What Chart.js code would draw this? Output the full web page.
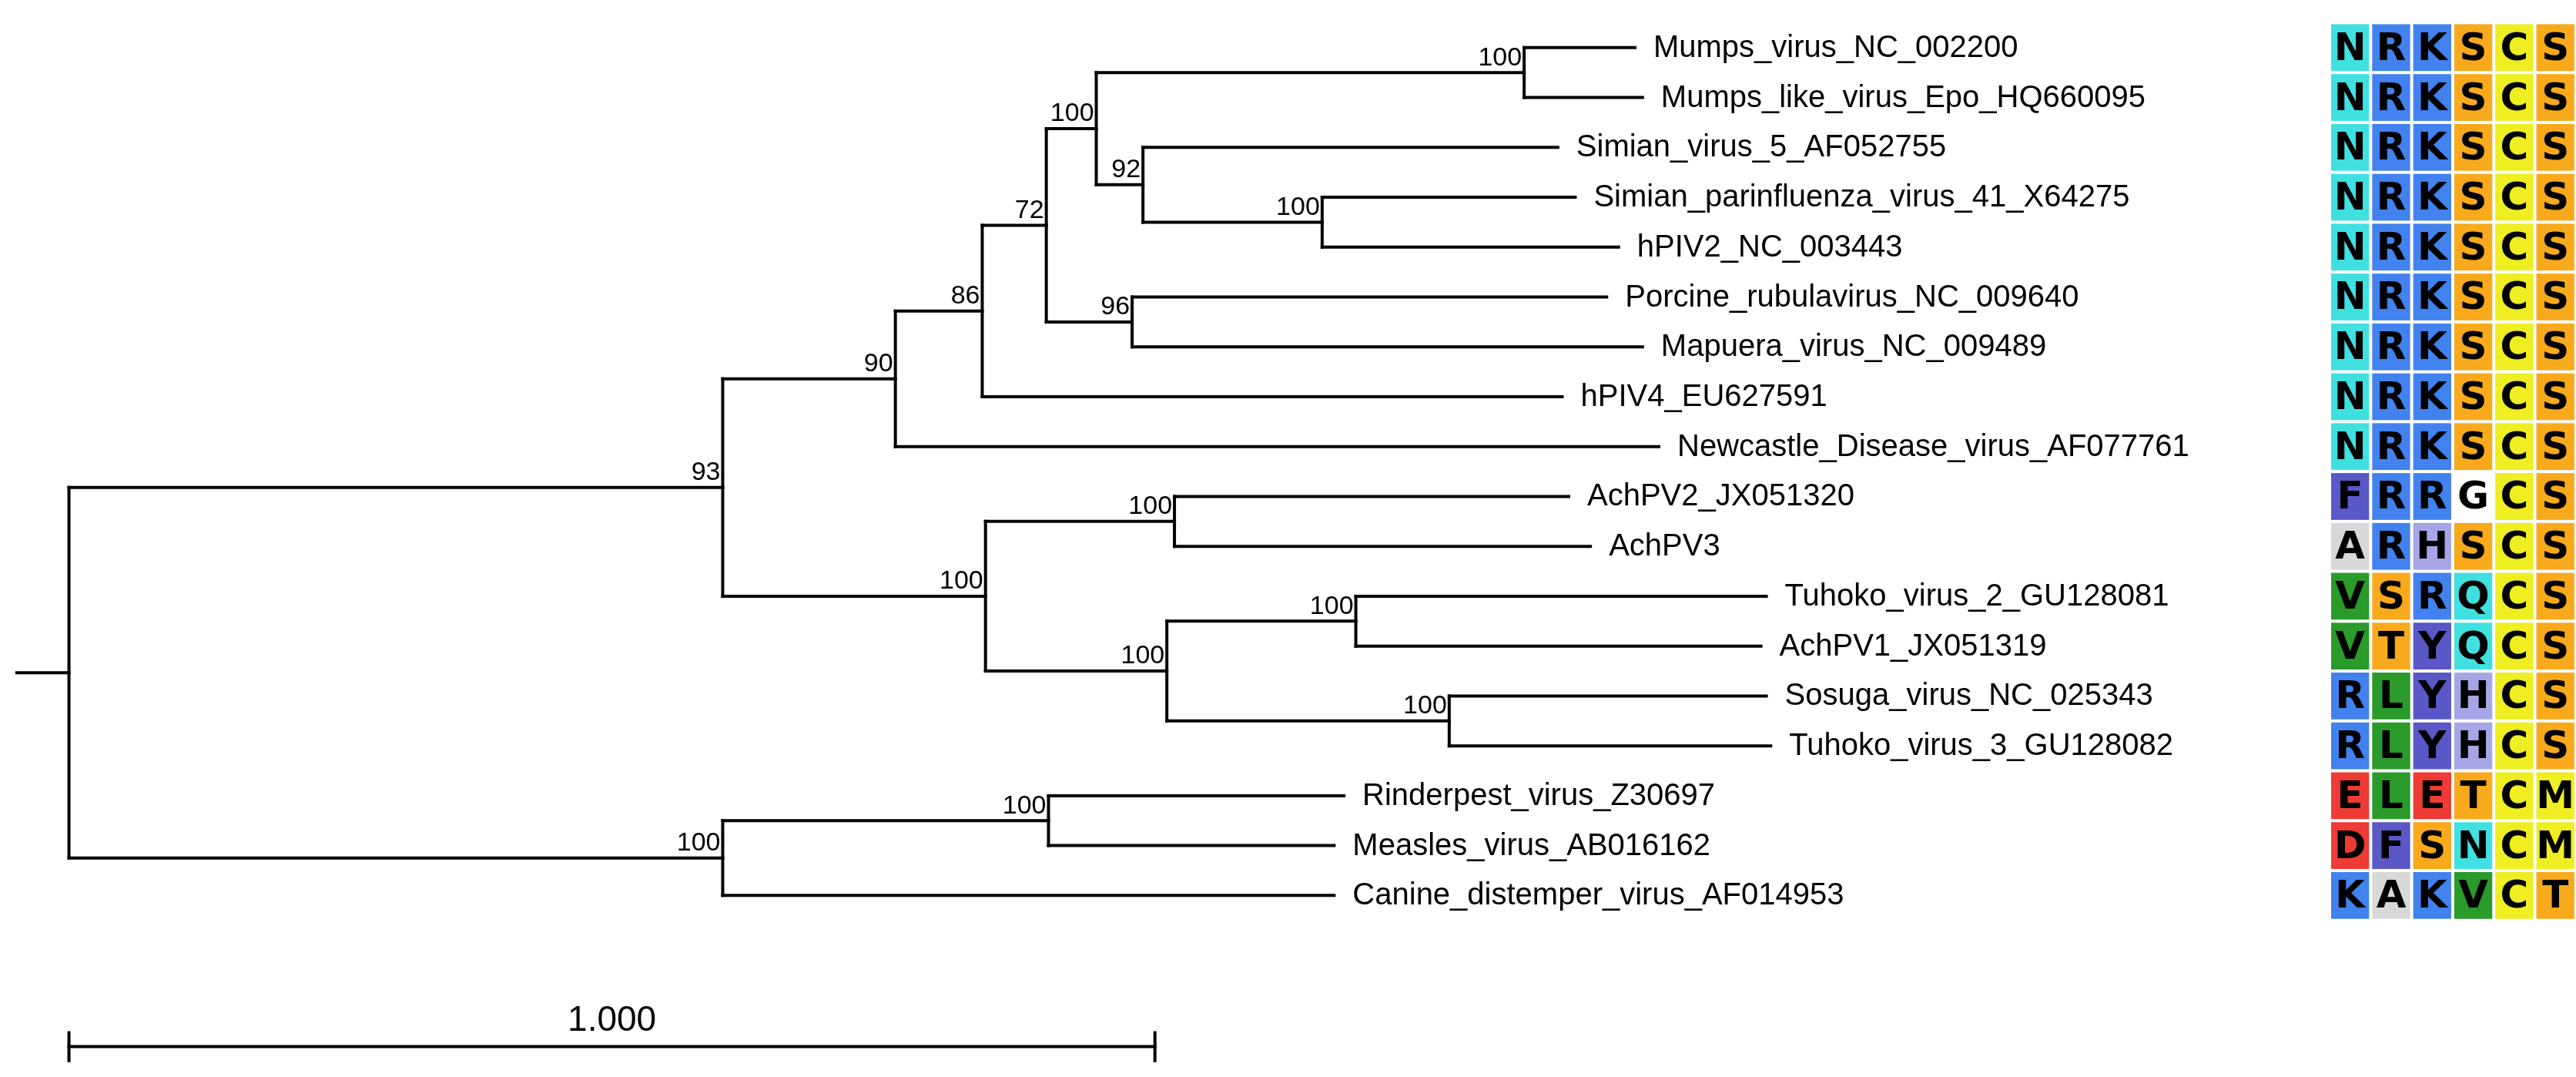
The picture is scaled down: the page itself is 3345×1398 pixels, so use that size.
<!DOCTYPE html>
<html>
<head>
<meta charset="utf-8">
<script src="https://cdn.jsdelivr.net/npm/chart.js@4/dist/chart.umd.min.js"></script>
<style>
  html, body { margin: 0; padding: 0; background: #fff; }
  #wrap { width: 3345px; height: 1398px; }
</style>
</head>
<body>
<div id="wrap"><canvas id="tree"></canvas></div>
<script>
// Leaves, top to bottom, with tip positions (branch length from root)
const leafNames = ['Mumps_virus_NC_002200', 'Mumps_like_virus_Epo_HQ660095', 'Simian_virus_5_AF052755',
    'Simian_parinfluenza_virus_41_X64275', 'hPIV2_NC_003443', 'Porcine_rubulavirus_NC_009640',
    'Mapuera_virus_NC_009489', 'hPIV4_EU627591', 'Newcastle_Disease_virus_AF077761', 'AchPV2_JX051320',
    'AchPV3', 'Tuhoko_virus_2_GU128081', 'AchPV1_JX051319', 'Sosuga_virus_NC_025343',
    'Tuhoko_virus_3_GU128082', 'Rinderpest_virus_Z30697', 'Measles_virus_AB016162',
    'Canine_distemper_virus_AF014953'];
const leafX = [1.442, 1.449, 1.371, 1.387, 1.427, 1.416, 1.449, 1.375, 1.464, 1.381,
    1.401, 1.563, 1.558, 1.563, 1.567, 1.174, 1.165, 1.165];

// Internal nodes: id, position, children, bootstrap support
const nodeIds     = ['root', 'n93', 'n90', 'n86', 'n72', 'n100a', 'nMumps', 'n92', 'nSim', 'n96',
                     'nAch', 'nAch23', 'nTu', 'nTuA1', 'nSos', 'nMorb', 'nRM'];
const nodeX       = [0, 0.602, 0.761, 0.841, 0.900, 0.946, 1.340, 0.989, 1.154, 0.979,
                     0.844, 1.018, 1.011, 1.185, 1.271, 0.602, 0.902];
const nodeKids    = [['n93', 'nMorb'], ['n90', 'nAch'], ['n86', 'L8'], ['n72', 'L7'], ['n100a', 'n96'],
                     ['nMumps', 'n92'], ['L0', 'L1'], ['L2', 'nSim'], ['L3', 'L4'], ['L5', 'L6'],
                     ['nAch23', 'nTu'], ['L9', 'L10'], ['nTuA1', 'nSos'], ['L11', 'L12'], ['L13', 'L14'],
                     ['nRM', 'L17'], ['L15', 'L16']];
const nodeSupport = ['', '93', '90', '86', '72', '100', '100', '92', '100', '96',
                     '100', '100', '100', '100', '100', '100', '100'];
const rootStem = -0.048;

// Alignment columns
const alignment = ['NRKSCS', 'NRKSCS', 'NRKSCS', 'NRKSCS', 'NRKSCS', 'NRKSCS', 'NRKSCS', 'NRKSCS', 'NRKSCS',
    'FRRGCS', 'ARHSCS', 'VSRQCS', 'VTYQCS', 'RLYHCS', 'RLYHCS', 'ELETCM', 'DFSNCM', 'KAKVCT'];
const residueColors = {
    N: '#40e0e0', Q: '#40e0e0', R: '#4282ee', K: '#4282ee', S: '#f8a91c', T: '#f8a91c',
    C: '#eeee22', M: '#eeee22', F: '#5a58c6', Y: '#5a58c6', A: '#d8d8d8', H: '#a6a6e6',
    V: '#2a9a2a', L: '#2a9a2a', E: '#ee3b36', D: '#ee3b36', G: '#ffffff'
};

// Scale bar
const scaleBarLength = 1;
const scaleBarLabel = '1.000';
const scaleBarRow = 20.03;

// Resolve node y positions
function yOf(id) {
    if (id[0] === 'L') return +id.slice(1);
    const k = nodeKids[nodeIds.indexOf(id)];
    return (yOf(k[0]) + yOf(k[k.length - 1])) / 2;
}
function xOf(id) {
    return id[0] === 'L' ? leafX[+id.slice(1)] : nodeX[nodeIds.indexOf(id)];
}

// Build segments
const segments = [];
segments.push([[rootStem, yOf('root')], [0, yOf('root')]]);
nodeIds.forEach((id, i) => {
    const kids = nodeKids[i];
    segments.push([[nodeX[i], yOf(kids[0])], [nodeX[i], yOf(kids[kids.length - 1])]]);
    kids.forEach(k => {
        segments.push([[nodeX[i], yOf(k)], [xOf(k), yOf(k)]]);
    });
});
// scale bar
segments.push([[0, scaleBarRow], [scaleBarLength, scaleBarRow]]);
segments.push([[0, scaleBarRow - 0.28], [0, scaleBarRow + 0.28]]);
segments.push([[scaleBarLength, scaleBarRow - 0.28], [scaleBarLength, scaleBarRow + 0.28]]);

const datasets = segments.map(s => ({
    data: s.map(p => ({ x: p[0], y: p[1] })),
    showLine: true,
    borderColor: '#000',
    borderWidth: 4,
    pointRadius: 0,
    borderCapStyle: 'square'
}));

// Labels, supports and alignment drawn through the scales
const treeText = {
    id: 'treeText',
    afterDatasetsDraw(chart) {
        const ctx = chart.ctx;
        const xs = chart.scales.x, ys = chart.scales.y;
        ctx.save();
        ctx.fillStyle = '#000';

        // leaf names
        ctx.font = '40px "Liberation Sans", Arial, sans-serif';
        ctx.textAlign = 'left';
        ctx.textBaseline = 'middle';
        leafNames.forEach((n, i) => {
            ctx.fillText(n, xs.getPixelForValue(leafX[i]) + 24, ys.getPixelForValue(i) + 1);
        });

        // bootstrap values
        ctx.font = '34px "Liberation Sans", Arial, sans-serif';
        ctx.textAlign = 'right';
        ctx.textBaseline = 'bottom';
        nodeIds.forEach((id, i) => {
            if (!nodeSupport[i]) return;
            ctx.fillText(nodeSupport[i], xs.getPixelForValue(nodeX[i]) - 3, ys.getPixelForValue(yOf(id)) - 2);
        });

        // scale bar label
        ctx.font = '46px "Liberation Sans", Arial, sans-serif';
        ctx.textAlign = 'center';
        ctx.fillText(scaleBarLabel, xs.getPixelForValue(scaleBarLength / 2), ys.getPixelForValue(scaleBarRow) - 10);

        // alignment block
        const colStart = 2.0817, colW = 0.0378;
        ctx.font = 'bold 50px "DejaVu Sans", sans-serif';
        ctx.textAlign = 'center';
        ctx.textBaseline = 'middle';
        alignment.forEach((row, r) => {
            const top = ys.getPixelForValue(r - 0.5), bottom = ys.getPixelForValue(r + 0.5);
            [...row].forEach((c, j) => {
                const left = xs.getPixelForValue(colStart + j * colW);
                const right = xs.getPixelForValue(colStart + (j + 1) * colW);
                ctx.fillStyle = residueColors[c] || '#fff';
                ctx.fillRect(left + 2, top + 2, right - left - 4, bottom - top - 4);
                ctx.fillStyle = '#000';
                ctx.fillText(c, (left + right) / 2, (top + bottom) / 2 + 3);
            });
        });
        ctx.restore();
    }
};

new Chart(document.getElementById('tree'), {
    type: 'scatter',
    data: { datasets: datasets },
    options: {
        responsive: true,
        maintainAspectRatio: false,
        animation: false,
        devicePixelRatio: 1,
        layout: { padding: 0 },
        plugins: { legend: { display: false }, tooltip: { enabled: false } },
        scales: {
            x: { type: 'linear', min: -0.0635, max: 2.3086, display: false },
            y: { type: 'linear', min: -0.955, max: 20.64, reverse: true, display: false }
        }
    },
    plugins: [treeText]
});
</script>
</body>
</html>
